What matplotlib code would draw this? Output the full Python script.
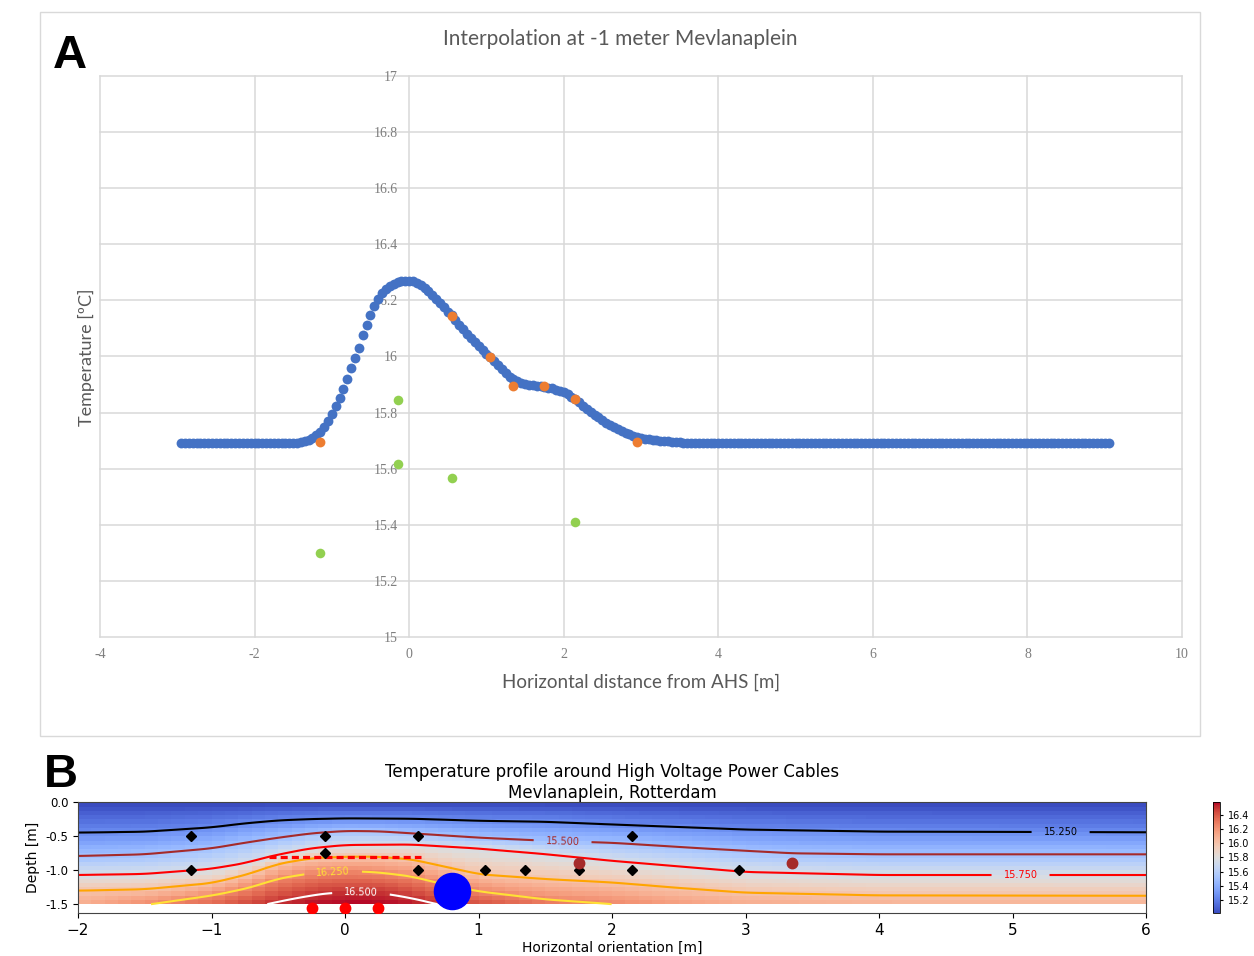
"""Two-panel figure: (A) interpolated temperature at -1 m, (B) temperature
profile around the high-voltage cables at Mevlanaplein, Rotterdam."""

import numpy as np
import matplotlib

matplotlib.use("Agg")
import matplotlib.pyplot as plt
from matplotlib.patches import Rectangle

# --------------------------------------------------------------------------- #
# Panel A data
# --------------------------------------------------------------------------- #
CURVE_START, CURVE_STEP = -2.95, 0.05
CURVE_LEFT = [15.69] * 29                      # -2.95 .. -1.55
CURVE_MID = [                                  # -1.50 .. 3.60
    15.690, 15.692, 15.695, 15.699, 15.704, 15.711, 15.720, 15.732, 15.748, 15.770,
    15.795, 15.825, 15.853, 15.884, 15.918, 15.958, 15.993, 16.032, 16.075, 16.112,
    16.148, 16.180, 16.205, 16.225, 16.240, 16.252, 16.260, 16.265, 16.268, 16.270,
    16.270,
    16.268, 16.263, 16.255, 16.245, 16.233, 16.220, 16.205, 16.190, 16.175, 16.160,
    16.147, 16.130, 16.113, 16.097, 16.081, 16.066, 16.052, 16.038, 16.024, 16.010,
    15.997, 15.983, 15.968, 15.954, 15.940, 15.928, 15.918, 15.912, 15.907, 15.903,
    15.900, 15.898, 15.896, 15.894, 15.892, 15.889, 15.886, 15.882, 15.878, 15.873,
    15.866, 15.857, 15.847, 15.836, 15.825, 15.814, 15.803, 15.793, 15.783, 15.773,
    15.764, 15.756, 15.749, 15.742, 15.735, 15.729, 15.723, 15.718, 15.714, 15.710,
    15.707, 15.705, 15.703, 15.701, 15.700, 15.698, 15.697, 15.696, 15.695, 15.694,
    15.693, 15.692,
]
CURVE_RIGHT = [15.69] * 109                    # 3.65 .. 9.05

MEAS_X = [-1.15, 0.55, 1.05, 1.35, 1.75, 2.15, 2.95]
MEAS_T = [15.696, 16.146, 15.997, 15.896, 15.896, 15.847, 15.696]

OTHER_X = [-1.15, -0.15, -0.15, 0.55, 2.15]
OTHER_T = [15.30, 15.844, 15.617, 15.568, 15.41]

# --------------------------------------------------------------------------- #
# Panel B data: isotherm depths read along the profile
# --------------------------------------------------------------------------- #
SURFACE_T = 15.0
BOTTOM_DEPTH = -1.5
BOTTOM_X = [-2, -1.5, -1.0, -0.6, -0.3, 0, 0.2, 0.45, 0.7, 1.0, 1.5, 2.0, 2.5, 3.0, 4.0, 6.0]
BOTTOM_T = [16.10, 16.24, 16.35, 16.50, 16.55, 16.57, 16.57, 16.55, 16.50, 16.42,
            16.32, 16.25, 16.17, 16.11, 16.08, 16.07]

ISO_LEVELS = [15.25, 15.5, 15.75, 16.0, 16.25, 16.5]
ISO_1525_X = [-2, -1.5, -1.0, -0.75, -0.5, -0.25, 0, 0.5, 1.0, 1.5, 2.0, 3.0, 4.0, 6.0]
ISO_1525_Z = [-0.445, -0.432, -0.368, -0.309, -0.265, -0.245, -0.235, -0.24, -0.27,
              -0.285, -0.325, -0.40, -0.43, -0.44]
ISO_1550_X = [-2, -1.5, -1.0, -0.75, -0.5, -0.25, 0, 0.25, 0.5, 1.0, 1.5, 2.0, 2.7, 3.35, 4.0, 6.0]
ISO_1550_Z = [-0.79, -0.765, -0.677, -0.594, -0.52, -0.455, -0.42, -0.425, -0.456, -0.52,
              -0.565, -0.595, -0.68, -0.75, -0.765, -0.765]
ISO_1575_X = [-2, -1.5, -1.0, -0.75, -0.5, -0.25, 0, 0.5, 1.0, 1.5, 2.0, 3.0, 4.0, 6.0]
ISO_1575_Z = [-1.07, -1.055, -0.98, -0.90, -0.775, -0.677, -0.628, -0.62, -0.677, -0.76,
              -0.86, -1.025, -1.07, -1.07]
ISO_1600_X = [-2, -1.5, -1.0, -0.75, -0.5, -0.25, 0, 0.25, 0.5, 0.75, 1.0, 1.5, 2.0, 2.5,
              3.0, 4.0, 6.0]
ISO_1600_Z = [-1.30, -1.28, -1.19, -1.07, -0.90, -0.82, -0.80, -0.80, -0.84, -0.95, -1.06,
              -1.13, -1.18, -1.26, -1.33, -1.37, -1.375]
ISO_1625_X = [-1.46, -1.0, -0.75, -0.5, -0.25, 0, 0.25, 0.5, 0.75, 1.0, 1.5, 2.0]
ISO_1625_Z = [-1.5, -1.37, -1.27, -1.12, -1.04, -1.01, -1.03, -1.09, -1.21, -1.31, -1.43, -1.5]
ISO_1650_X = [-0.6, -0.4, -0.2, 0.0, 0.2, 0.4, 0.6, 0.7]
ISO_1650_Z = [-1.5, -1.42, -1.35, -1.32, -1.32, -1.37, -1.45, -1.5]

ISO_COLORS = ["black", "brown", "red", "orange", "#ffe135", "white"]
# one label each on 15.25, 15.5, 15.75, 16.25 and 16.5
LABEL_POS = [(5.36, -0.44), (1.63, -0.56), (5.06, -1.07), (-0.09, -1.01), (0.12, -1.32)]

SENSOR_X = [-1.15, -0.15, 0.55, 2.15, -0.15, -1.15, 0.55, 1.05, 1.35, 1.75, 2.15, 2.95]
SENSOR_Z = [-0.5, -0.5, -0.5, -0.5, -0.75, -1.0, -1.0, -1.0, -1.0, -1.0, -1.0, -1.0]
EXTRA_X = [1.75, 3.35]
EXTRA_Z = [-0.9, -0.9]
CABLE_X = [-0.25, 0.0, 0.25]
CABLE_Z = [-1.56, -1.56, -1.56]
PIPE_X = [0.8]
PIPE_Z = [-1.3]
DASH_X = [-0.57, 0.57]
DASH_Z = [-0.8, -0.8]

GRAY_TXT = "#595959"
GRID = "#d9d9d9"


def temperature_field(xg, zg):
    """Temperature on the grid, linear between isotherms in every column."""
    isos = [(15.25, ISO_1525_X, ISO_1525_Z), (15.5, ISO_1550_X, ISO_1550_Z),
            (15.75, ISO_1575_X, ISO_1575_Z), (16.0, ISO_1600_X, ISO_1600_Z),
            (16.25, ISO_1625_X, ISO_1625_Z), (16.5, ISO_1650_X, ISO_1650_Z)]
    t_bottom = np.interp(xg, BOTTOM_X, BOTTOM_T)
    field = np.empty((len(zg), len(xg)))
    for j, x in enumerate(xg):
        d, t = [0.0], [SURFACE_T]
        for lev, ix, iz in isos:
            if ix[0] <= x <= ix[-1]:
                z = np.interp(x, ix, iz)
                if z > BOTTOM_DEPTH + 1e-6:
                    d.append(-z)
                    t.append(lev)
        d.append(-BOTTOM_DEPTH)
        t.append(t_bottom[j])
        order = np.argsort(d)
        field[:, j] = np.interp(-zg, np.array(d)[order], np.array(t)[order])
    # light smoothing along x to remove kinks between stations
    k = np.ones(9) / 9
    padded = np.pad(field, ((0, 0), (4, 4)), mode="edge")
    return np.apply_along_axis(lambda r: np.convolve(r, k, mode="valid"), 1, padded)


fig = plt.figure(figsize=(12.54, 9.56), dpi=100)

# --------------------------------------------------------------------------- #
# Panel A
# --------------------------------------------------------------------------- #
fig.add_artist(Rectangle((0.0319, 0.2301), 0.925, 0.7573, transform=fig.transFigure,
                         fill=False, ec=GRID, lw=1.0))
axA = fig.add_axes([0.0797, 0.3337, 0.8629, 0.5868])
curve_y = CURVE_LEFT + CURVE_MID + CURVE_RIGHT
curve_x = np.round(CURVE_START + CURVE_STEP * np.arange(len(curve_y)), 2)
axA.scatter(curve_x, curve_y, s=50, color="#4472c4", lw=0, zorder=3)
axA.scatter(MEAS_X, MEAS_T, s=50, color="#ed7d31", lw=0, zorder=4)
axA.scatter(OTHER_X, OTHER_T, s=48, color="#92d050", lw=0, zorder=4)
axA.set_xlim(-4, 10)
axA.set_ylim(15, 17)
axA.set_xticks(np.arange(-4, 10.1, 2))
axA.set_yticks(np.round(np.arange(15, 17.01, 0.2), 1))
axA.yaxis.set_major_formatter(matplotlib.ticker.FormatStrFormatter("%g"))
axA.xaxis.set_major_formatter(matplotlib.ticker.FormatStrFormatter("%g"))
for s in ["top", "right", "bottom"]:
    axA.spines[s].set_visible(False)
axA.spines["left"].set_position(("data", 0))
axA.spines["left"].set_visible(False)
axA.grid(True, color=GRID, lw=1.1)
axA.set_axisbelow(True)
for gl in axA.get_xgridlines() + axA.get_ygridlines():
    gl.set_clip_on(False)
axA.tick_params(length=0, labelsize=10, labelcolor="#7f7f7f", pad=8)
for lab in axA.get_xticklabels() + axA.get_yticklabels():
    lab.set_fontfamily("Liberation Serif")

fig.text(0.4944, 0.9592, "Interpolation at -1 meter Mevlanaplein", ha="center", va="center",
         fontsize=15, color=GRAY_TXT, family="Lato")
fig.text(0.5112, 0.2866, "Horizontal distance from AHS [m]", ha="center", va="center",
         fontsize=13.5, color=GRAY_TXT, family="Lato")
fig.text(0.0686, 0.6266, "Temperature [ºC]", ha="center", va="center", rotation=90,
         fontsize=13, color=GRAY_TXT, family="Lato")
fig.text(0.0423, 0.9289, "A", ha="left", va="baseline", fontsize=34,
         fontweight="bold", family="Liberation Sans")

# --------------------------------------------------------------------------- #
# Panel B
# --------------------------------------------------------------------------- #
xf = np.linspace(-2, 6, 401)
zf = np.linspace(0, BOTTOM_DEPTH, 151)
tf = temperature_field(xf, zf)

x_edges = np.linspace(-2, 6, 81)
z_edges = np.linspace(0, BOTTOM_DEPTH, 25)
xc = 0.5 * (x_edges[1:] + x_edges[:-1])
zc = 0.5 * (z_edges[1:] + z_edges[:-1])
ix = np.clip(np.round((xc - xf[0]) / (xf[1] - xf[0])).astype(int), 0, len(xf) - 1)
iz = np.clip(np.round((zc - zf[0]) / (zf[1] - zf[0])).astype(int), 0, len(zf) - 1)
raster = tf[np.ix_(iz, ix)]

axB = fig.add_axes([0.0622, 0.045, 0.8517, 0.1156])
mesh = axB.pcolormesh(x_edges, z_edges, raster, cmap="coolwarm", vmin=15.02, vmax=16.57,
                      shading="flat")
cs = axB.contour(xf, zf, tf, levels=ISO_LEVELS, colors=ISO_COLORS, linewidths=1.5)
axB.clabel(cs, manual=LABEL_POS, fmt="%.3f", fontsize=7, inline=True, inline_spacing=12)
axB.plot(DASH_X, DASH_Z, color="red", lw=2.3, ls=(0, (2.2, 1.3)), zorder=4)
axB.plot(SENSOR_X, SENSOR_Z, "D", color="black", ms=5.5, zorder=5)
axB.plot(EXTRA_X, EXTRA_Z, "o", color="brown", ms=7.5, zorder=5)
axB.plot(CABLE_X, CABLE_Z, "o", color="red", ms=7.5, zorder=5)
axB.plot(PIPE_X, PIPE_Z, "o", color="blue", ms=26, zorder=5)
axB.set_xlim(-2, 6)
axB.set_ylim(-1.63, 0)
axB.set_xticks(np.arange(-2, 6.1, 1))
axB.set_yticks([0.0, -0.5, -1.0, -1.5])
axB.yaxis.set_major_formatter(matplotlib.ticker.FormatStrFormatter("%.1f"))
axB.tick_params(axis="x", labelsize=11)
axB.tick_params(axis="y", labelsize=8.5)
for s in axB.spines.values():
    s.set_color("#444444")
axB.set_xlabel("Horizontal orientation [m]", fontsize=10, labelpad=2)
axB.set_ylabel("Depth [m]", fontsize=10)
axB.set_title("Temperature profile around High Voltage Power Cables\nMevlanaplein, Rotterdam",
              fontsize=12, pad=3)

cax = fig.add_axes([0.9673, 0.045, 0.0056, 0.1156])
cb = fig.colorbar(mesh, cax=cax, ticks=np.round(np.arange(15.2, 16.41, 0.2), 1))
cb.ax.tick_params(labelsize=7, length=2.5)
cb.outline.set_linewidth(0.6)

fig.text(0.0351, 0.1768, "B", ha="left", va="baseline", fontsize=34,
         fontweight="bold", family="Liberation Sans")

fig.savefig("out.png", dpi=100)
